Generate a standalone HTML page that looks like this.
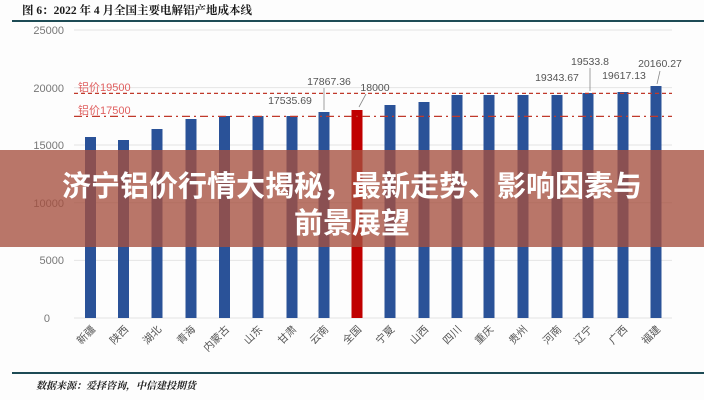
<!DOCTYPE html>
<html><head><meta charset="utf-8"><style>
html,body{margin:0;padding:0;background:#fff;}
svg{display:block;}
</style></head><body>
<svg width="704" height="400" viewBox="0 0 704 400" xmlns="http://www.w3.org/2000/svg">
<rect width="704" height="400" fill="#fdfdfd"/>
<text x="22" y="14" font-family="Liberation Serif, 'Noto Serif CJK SC', serif" font-weight="bold" font-size="11.5" fill="#1a1a1a">图 6：2022 年 4 月全国主要电解铝产地成本线</text>
<line x1="12" y1="21" x2="704" y2="21" stroke="#1d4b55" stroke-width="2"/>
<g font-family="Liberation Sans, sans-serif" font-size="11" fill="#777" text-anchor="end">
<text x="64" y="34">25000</text>
<text x="64" y="92">20000</text>
<text x="64" y="149">15000</text>
<text x="64" y="207">10000</text>
<text x="64" y="264">5000</text>
<text x="50" y="322">0</text>
</g>
<g stroke="#e4e4e4" stroke-width="1">
<line x1="74" y1="30" x2="672" y2="30"/>
<line x1="74" y1="87.6" x2="672" y2="87.6"/>
<line x1="74" y1="145" x2="672" y2="145"/>
<line x1="74" y1="202.8" x2="672" y2="202.8"/>
<line x1="74" y1="260.4" x2="672" y2="260.4"/>
<line x1="74" y1="318" x2="672" y2="318"/>
</g>
<g fill="#2a5298">
<rect x="85" y="137" width="11" height="181"/>
<rect x="118" y="140" width="11" height="178"/>
<rect x="151.5" y="129" width="11" height="189"/>
<rect x="185.5" y="119" width="11" height="199"/>
<rect x="219" y="116" width="11" height="202"/>
<rect x="252.5" y="116" width="11" height="202"/>
<rect x="286.5" y="116" width="11" height="202"/>
<rect x="318.5" y="112" width="11" height="206"/>
<rect x="384.5" y="105" width="11" height="213"/>
<rect x="418.5" y="102" width="11" height="216"/>
<rect x="451.5" y="95" width="11" height="223"/>
<rect x="483.5" y="95" width="11" height="223"/>
<rect x="517.5" y="95" width="11" height="223"/>
<rect x="551.5" y="95" width="11" height="223"/>
<rect x="582.5" y="93" width="11" height="225"/>
<rect x="617.5" y="92" width="11" height="226"/>
<rect x="650.5" y="86" width="11" height="232"/>
</g>
<rect x="351.5" y="110" width="11" height="208" fill="#c00000"/>
<line x1="74" y1="93.4" x2="672" y2="93.4" stroke="#c0392b" stroke-width="1.3" stroke-dasharray="4,3"/>
<line x1="74" y1="116.4" x2="672" y2="116.4" stroke="#c0392b" stroke-width="1.3" stroke-dasharray="8,4,2,4"/>
<g font-family="Liberation Sans, 'Noto Sans CJK SC', sans-serif" font-size="11" fill="#e06060">
<text x="78" y="91">铝价19500</text>
<text x="78" y="114">铝价17500</text>
</g>
<g font-family="Liberation Sans, sans-serif" font-size="10.5" fill="#555" text-anchor="middle">
<text x="290" y="104">17535.69</text>
<text x="329" y="85">17867.36</text>
<text x="375" y="91">18000</text>
<text x="557" y="81">19343.67</text>
<text x="590" y="65">19533.8</text>
<text x="624" y="79">19617.13</text>
<text x="660" y="67">20160.27</text>
</g>
<g stroke="#888" stroke-width="0.8">
<line x1="324" y1="88" x2="324" y2="110"/>
<line x1="590" y1="68" x2="590" y2="91"/>
<line x1="660" y1="71" x2="657" y2="84"/>
<line x1="366" y1="94" x2="359" y2="107"/>
</g>
<g font-family="Liberation Sans, 'Noto Sans CJK SC', sans-serif" font-size="10.5" fill="#555" text-anchor="end">
<text transform="translate(96,330) rotate(-45)">新疆</text>
<text transform="translate(129,330) rotate(-45)">陕西</text>
<text transform="translate(162,330) rotate(-45)">湖北</text>
<text transform="translate(196,330) rotate(-45)">青海</text>
<text transform="translate(230,330) rotate(-45)">内蒙古</text>
<text transform="translate(263,330) rotate(-45)">山东</text>
<text transform="translate(297,330) rotate(-45)">甘肃</text>
<text transform="translate(329,330) rotate(-45)">云南</text>
<text transform="translate(362,330) rotate(-45)">全国</text>
<text transform="translate(395,330) rotate(-45)">宁夏</text>
<text transform="translate(429,330) rotate(-45)">山西</text>
<text transform="translate(462,330) rotate(-45)">四川</text>
<text transform="translate(494,330) rotate(-45)">重庆</text>
<text transform="translate(528,330) rotate(-45)">贵州</text>
<text transform="translate(562,330) rotate(-45)">河南</text>
<text transform="translate(593,330) rotate(-45)">辽宁</text>
<text transform="translate(628,330) rotate(-45)">广西</text>
<text transform="translate(661,330) rotate(-45)">福建</text>
</g>
<line x1="12" y1="373" x2="704" y2="373" stroke="#1d4b55" stroke-width="2"/>
<text x="36" y="389" font-family="Liberation Serif, 'Noto Serif CJK SC', serif" font-style="italic" font-weight="bold" font-size="10" fill="#222">数据来源：爱择咨询，中信建投期货</text>
<rect x="0" y="150" width="704" height="97" fill="#a5503f" fill-opacity="0.78"/>
<g font-family="Liberation Sans, 'Noto Sans CJK SC', sans-serif" font-weight="bold" font-size="29" fill="#fff" text-anchor="middle">
<text x="352" y="196">济宁铝价行情大揭秘，最新走势、影响因素与</text>
<text x="352" y="233">前景展望</text>
</g>
</svg>
</body></html>
